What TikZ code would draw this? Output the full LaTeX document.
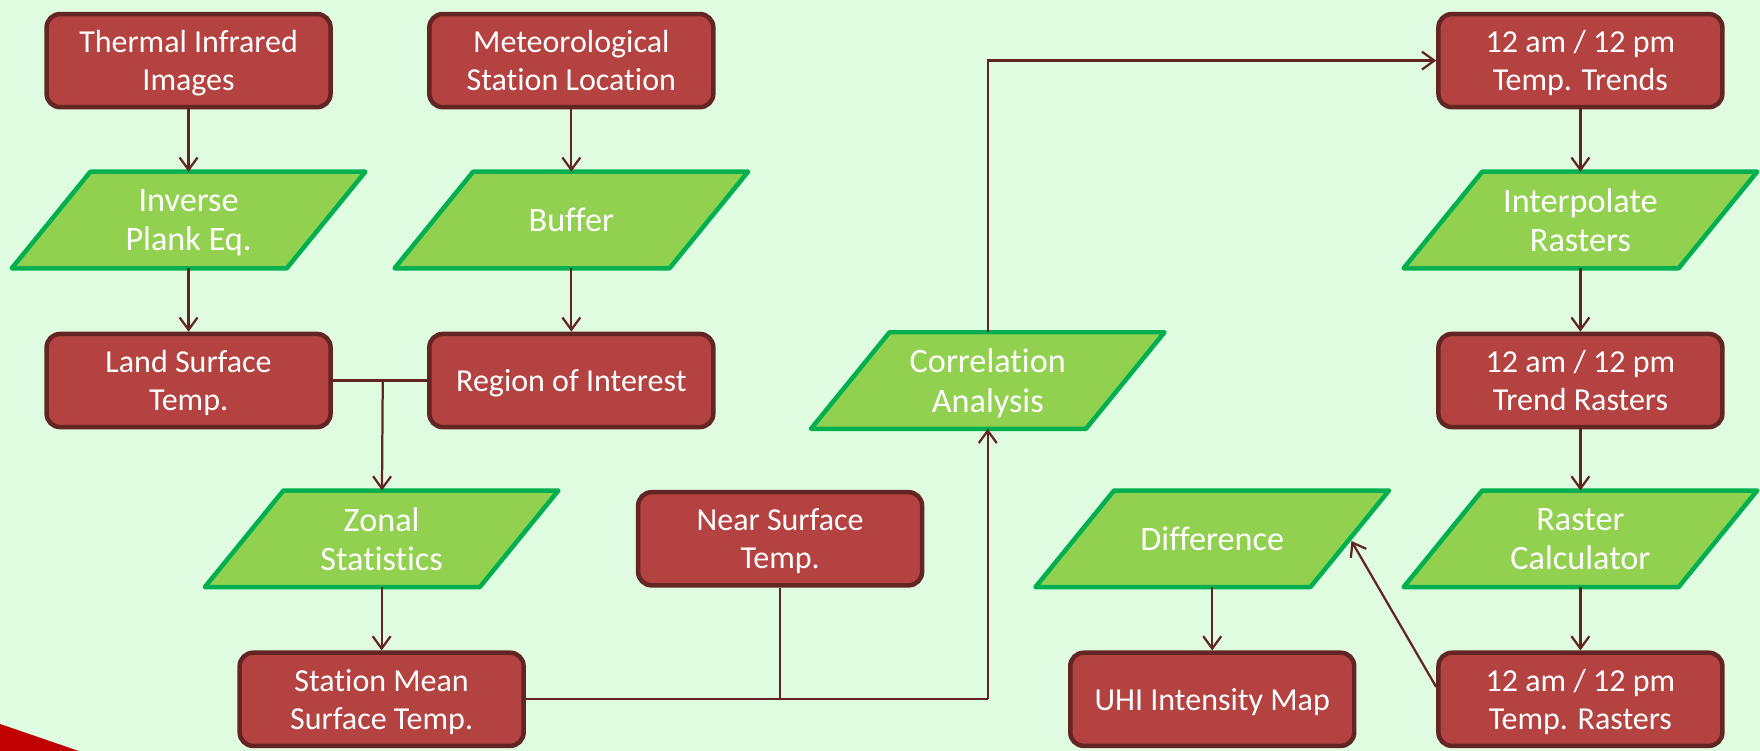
\documentclass[tikz,border=0pt]{standalone}
\usepackage{fontspec}
\setmainfont{Carlito}[Ligatures=NoCommon]
\usetikzlibrary{arrows.meta}
\pgfdeclarelayer{background}
\pgfsetlayers{background,main}
\definecolor{bgcol}{RGB}{224,252,224}
\definecolor{boxfill}{RGB}{179,66,64}
\definecolor{boxline}{RGB}{99,37,35}
\definecolor{procfill}{RGB}{146,208,80}
\definecolor{procline}{RGB}{0,176,80}
\definecolor{wedge}{RGB}{192,0,0}

\tikzset{
  data/.style={rectangle, rounded corners=12pt, draw=boxline, fill=boxfill,
    line width=4pt, minimum width=253pt, minimum height=83pt, text=white,
    text depth=0pt, align=center, font=\fontsize{28.5}{34}\selectfont},
  proc/.style={rectangle, outer sep=0pt, minimum width=245pt, minimum height=86pt,
    text=white, text depth=0pt, align=center, font=\fontsize{30.5}{35}\selectfont},
  procshape/.style={draw=procline, fill=procfill, line width=4pt, line join=round},
  link/.style={draw=boxline, line width=2pt},
  flow/.style={link, -{Straight Barb[length=11pt,width=16pt]}}
}

\begin{document}
\begin{tikzpicture}[x=1pt,y=-1pt]
  \begin{pgfonlayer}{background}
    \fill[bgcol] (0,0) rectangle (1568,669);
    \fill[wedge] (0,645) -- (70,669) -- (0,669) -- cycle;
  \end{pgfonlayer}

  % left column
  \node[data] (therm) at (168,54) {Thermal Infrared\\Images};
  \node[proc] (inv) at (168,196) {Inverse\\Plank Eq.};
  \node[data] (lst) at (168,339) {Land Surface\\Temp.};

  % station column
  \node[data] (met) at (509,54) {Meteorological\\Station Location};
  \node[proc] (buf) at (509,196) {Buffer};
  \node[data] (roi) at (509,339) {Region of Interest};

  \node[proc] (zonal) at (340,480) {Zonal\\Statistics};
  \node[data] (smst) at (340,623) {Station Mean\\Surface Temp.};
  \node[data] (nst) at (695,480) {Near Surface\\Temp.};

  \node[proc] (corr) at (880,339) {Correlation\\Analysis};

  % right column
  \node[data] (trend) at (1408,54) {12 am / 12 pm\\Temp. Trends};
  \node[proc] (interp) at (1408,196) {Interpolate\\Rasters};
  \node[data] (trendr) at (1408,339) {12 am / 12 pm\\Trend Rasters};
  \node[proc] (calc) at (1408,480) {Raster\\Calculator};
  \node[data] (tempr) at (1408,623) {12 am / 12 pm\\Temp. Rasters};

  \node[proc] (diff) at (1080,480) {Difference};
  \node[data] (uhi) at (1080,623) {UHI Intensity Map};

  % slanted outlines behind the process nodes
  \begin{pgfonlayer}{background}
    \foreach \n in {inv,buf,zonal,corr,interp,calc,diff}
      \draw[procshape] ([xshift=-35pt]\n.south west) -- ([xshift=-35pt]\n.south east)
        -- ([xshift=35pt]\n.north east) -- ([xshift=35pt]\n.north west) -- cycle;
  \end{pgfonlayer}

  \coordinate (j1) at (341,339);
  \coordinate (j2) at (880,623);
  \coordinate (j3) at (695,623);
  \coordinate (dside) at (1204,482);

  \draw[flow] (therm) -- (inv);
  \draw[flow] (inv) -- (lst);
  \draw[flow] (met) -- (buf);
  \draw[flow] (buf) -- (roi);
  \draw[link] (lst.east) -- (roi.west);
  \draw[flow] (j1) -- (zonal);
  \draw[flow] (zonal) -- (smst);
  \draw[link] (smst.east) -- (j2);
  \draw[link] (nst.south) -- (j3);
  \draw[flow] (j2) -- (corr.south);
  \draw[flow] (corr.north) |- (trend.west);
  \draw[flow] (trend) -- (interp);
  \draw[flow] (interp) -- (trendr);
  \draw[flow] (trendr) -- (calc);
  \draw[flow] (calc) -- (tempr);
  \draw[flow] ([yshift=11pt]tempr.west) -- (dside);
  \draw[flow] (diff) -- (uhi);
\end{tikzpicture}
\end{document}
